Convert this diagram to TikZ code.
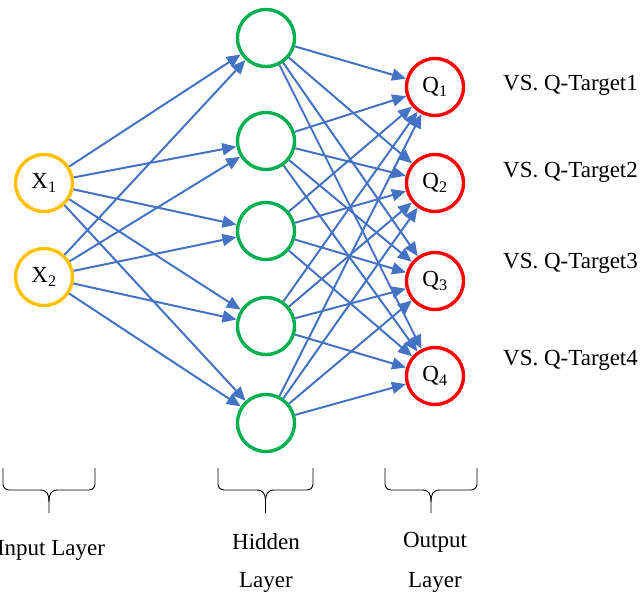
\documentclass[tikz,border=0pt]{standalone}
\usepackage{fontspec}
\setmainfont{Liberation Serif}
\usetikzlibrary{arrows.meta}
\definecolor{edgeblue}{HTML}{4472C4}
\definecolor{inorange}{HTML}{FFC000}
\definecolor{hidgreen}{HTML}{00B050}
\definecolor{outred}{HTML}{FF0000}
\begin{document}
\begin{tikzpicture}[x=1pt,y=-1pt,
  neuron/.style={circle,minimum size=57pt,inner sep=0pt,line width=3.4pt,fill=white,
                 font=\fontsize{23}{27}\selectfont},
  innode/.style={neuron,draw=inorange},
  hidnode/.style={neuron,draw=hidgreen},
  outnode/.style={neuron,draw=outred},
  link/.style={draw=edgeblue,line width=2pt,-{Triangle[length=14pt,width=12pt]}},
  lbl/.style={font=\fontsize{23}{27}\selectfont,inner sep=0pt},
  bracepath/.style={draw=black,line width=0.9pt}]
\useasboundingbox (0,0) rectangle (643,596);

% input layer
\node[innode] (x1) at (44,183) {X\textsubscript{1}};
\node[innode] (x2) at (44,277) {X\textsubscript{2}};

% hidden layer
\node[hidnode] (h1) at (266,38) {};
\node[hidnode] (h2) at (266,141) {};
\node[hidnode] (h3) at (266,231) {};
\node[hidnode] (h4) at (266,326) {};
\node[hidnode] (h5) at (266,423) {};

% output layer
\node[outnode] (q1) at (435,87) {Q\textsubscript{1}};
\node[outnode] (q2) at (435,183) {Q\textsubscript{2}};
\node[outnode] (q3) at (435,281) {Q\textsubscript{3}};
\node[outnode] (q4) at (435,376) {Q\textsubscript{4}};

% connections
\foreach \i in {1,2}
  \foreach \j in {1,...,5}
    \draw[link] (x\i) -- (h\j);
\foreach \j in {1,...,5}
  \foreach \k in {1,...,4}
    \draw[link] (h\j) -- (q\k);

% targets
\node[lbl,anchor=west] (t1) at (503,85) {VS. Q-Target1};
\node[lbl,anchor=west] (t2) at (503,172) {VS. Q-Target2};
\node[lbl,anchor=west] (t3) at (503,263) {VS. Q-Target3};
\node[lbl,anchor=west] (t4) at (503,360) {VS. Q-Target4};

% braces under each layer
\foreach \a/\b in {3/95, 218/313, 385/477} {
  \pgfmathsetmacro{\m}{(\a+\b)/2}
  \draw[bracepath] (\a,468) -- (\a,484) to[out=-90,in=180] (\a+6,490) -- (\m-9,490)
        .. controls (\m-2,490) and (\m,494) .. (\m,502) -- (\m,513);
  \draw[bracepath] (\b,468) -- (\b,484) to[out=-90,in=0] (\b-6,490) -- (\m+9,490)
        .. controls (\m+2,490) and (\m,494) .. (\m,502);
}

% layer names
\node[lbl] (lin) at (51,550) {Input Layer};
\node[lbl] (lh1) at (266,542) {Hidden};
\node[lbl] (lh2) at (266,582) {Layer};
\node[lbl] (lo1) at (435,542) {Output};
\node[lbl] (lo2) at (435,582) {Layer};
\end{tikzpicture}
\end{document}
